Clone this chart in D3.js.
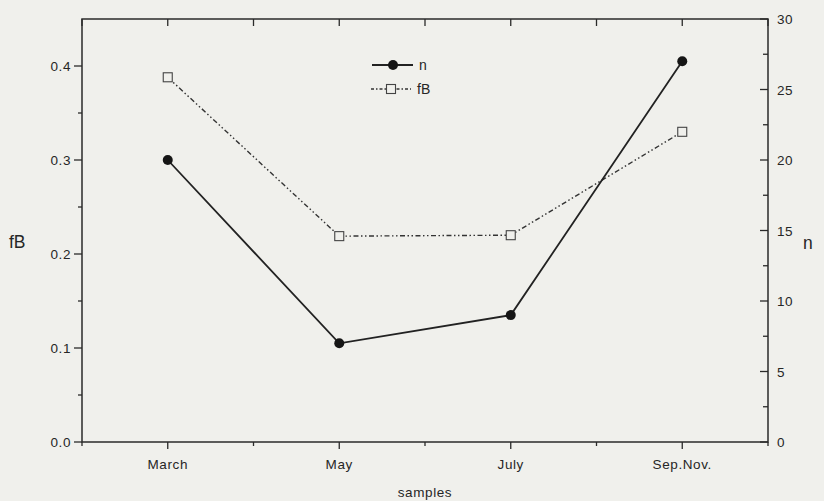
<!DOCTYPE html>
<html>
<head>
<meta charset="utf-8">
<script src="https://cdn.jsdelivr.net/npm/d3@7/dist/d3.min.js"></script>
<style>
  html, body { margin: 0; padding: 0; background: #f0f0ec; }
  svg { display: block; }
  text { font-family: "Liberation Sans", Arial, Helvetica, sans-serif; fill: #262626; }
</style>
</head>
<body>
<svg id="chart" width="824" height="501"></svg>
<script>
const categories = ["March", "May", "July", "Sep.Nov."];
const nValues = [20, 7, 9, 27];
const fBValues = [0.388, 0.219, 0.22, 0.33];
const leftTicks = [0.0, 0.1, 0.2, 0.3, 0.4];
const rightTicks = [0, 5, 10, 15, 20, 25, 30];

const svg = d3.select("#chart");
const margin = { left: 82, right: 56, top: 19, bottom: 59 };
const W = 824, H = 501;
const x0 = margin.left, x1 = W - margin.right;
const y0 = H - margin.bottom, y1 = margin.top;

const x = d3.scaleLinear().domain([0.5, categories.length + 0.5]).range([x0, x1]);
const yL = d3.scaleLinear().domain([0, 0.45]).range([y0, y1]);
const yR = d3.scaleLinear().domain([0, 30]).range([y0, y1]);

const axisColor = "#2a2a2a";
const halfTicks = d3.range(0.5, categories.length + 0.51, 0.5);
const tickFont = 13.5, tickSpacing = 0.6;

// Frame
svg.append("rect").attr("x", x0).attr("y", y1).attr("width", x1 - x0).attr("height", y0 - y1)
  .attr("fill", "none").attr("stroke", axisColor).attr("stroke-width", 1.5);

// Bottom axis
const gB = svg.append("g").attr("transform", `translate(0,${y0})`);
gB.selectAll("line").data(halfTicks).enter().append("line")
  .attr("x1", d => x(d)).attr("x2", d => x(d))
  .attr("y1", 0).attr("y2", d => Number.isInteger(d) ? 7 : 4)
  .attr("stroke", axisColor).attr("stroke-width", 1.3);
gB.selectAll("text").data(categories).enter().append("text")
  .attr("x", (d, i) => x(i + 1)).attr("y", 27)
  .attr("text-anchor", "middle").attr("font-size", tickFont).attr("letter-spacing", tickSpacing).text(d => d);
svg.append("text").attr("x", x(2.5)).attr("y", 497).attr("text-anchor", "middle")
  .attr("font-size", tickFont).attr("letter-spacing", tickSpacing).text("samples");

// Top axis ticks (inward)
svg.append("g").selectAll("line").data(halfTicks).enter().append("line")
  .attr("x1", d => x(d)).attr("x2", d => x(d))
  .attr("y1", y1).attr("y2", y1 + 7)
  .attr("stroke", axisColor).attr("stroke-width", 1.3);

// Left axis
const leftMinor = d3.range(0.05, 0.45, 0.1);
const gL = svg.append("g");
gL.selectAll("line.maj").data(leftTicks).enter().append("line")
  .attr("x1", x0 - 8).attr("x2", x0).attr("y1", d => yL(d)).attr("y2", d => yL(d))
  .attr("stroke", axisColor).attr("stroke-width", 1.3);
gL.selectAll("line.min").data(leftMinor).enter().append("line")
  .attr("x1", x0 - 4).attr("x2", x0).attr("y1", d => yL(d)).attr("y2", d => yL(d))
  .attr("stroke", axisColor).attr("stroke-width", 1.3);
gL.selectAll("text").data(leftTicks).enter().append("text")
  .attr("x", x0 - 11).attr("y", d => yL(d) + 5)
  .attr("text-anchor", "end").attr("font-size", tickFont).attr("letter-spacing", tickSpacing).text(d => d.toFixed(1));
svg.append("text").attr("x", 9).attr("y", 248).attr("font-size", 17.5).text("fB");

// Right axis (ticks inward)
const rightMinor = d3.range(2.5, 30, 5);
const gR = svg.append("g");
gR.selectAll("line.maj").data(rightTicks).enter().append("line")
  .attr("x1", x1 - 8).attr("x2", x1).attr("y1", d => yR(d)).attr("y2", d => yR(d))
  .attr("stroke", axisColor).attr("stroke-width", 1.3);
gR.selectAll("line.min").data(rightMinor).enter().append("line")
  .attr("x1", x1 - 5).attr("x2", x1).attr("y1", d => yR(d)).attr("y2", d => yR(d))
  .attr("stroke", axisColor).attr("stroke-width", 1.3);
gR.selectAll("text").data(rightTicks).enter().append("text")
  .attr("x", x1 + 9).attr("y", d => yR(d) + 5)
  .attr("text-anchor", "start").attr("font-size", tickFont).attr("letter-spacing", tickSpacing).text(d => d);
svg.append("text").attr("x", 803).attr("y", 249).attr("font-size", 17.5).text("n");

// fB series (dash-dot-dot, open squares)
const dash = "5,2.5,1.5,2.5,1.5,2.5";
const lineL = d3.line().x((d, i) => x(i + 1)).y(d => yL(d));
svg.append("path").datum(fBValues).attr("d", lineL)
  .attr("fill", "none").attr("stroke", "#333").attr("stroke-width", 1.4)
  .attr("stroke-dasharray", dash);
svg.selectAll("rect.fb").data(fBValues).enter().append("rect")
  .attr("x", (d, i) => x(i + 1) - 4.5).attr("y", d => yL(d) - 4.5)
  .attr("width", 9).attr("height", 9)
  .attr("fill", "#f0f0ec").attr("stroke", "#444").attr("stroke-width", 1.1);

// n series (solid, filled circles)
const lineR = d3.line().x((d, i) => x(i + 1)).y(d => yR(d));
svg.append("path").datum(nValues).attr("d", lineR)
  .attr("fill", "none").attr("stroke", "#222").attr("stroke-width", 1.8);
svg.selectAll("circle.n").data(nValues).enter().append("circle")
  .attr("cx", (d, i) => x(i + 1)).attr("cy", d => yR(d)).attr("r", 5)
  .attr("fill", "#151515");

// Legend
const lg = svg.append("g");
lg.append("line").attr("x1", 372).attr("x2", 413).attr("y1", 65).attr("y2", 65)
  .attr("stroke", "#222").attr("stroke-width", 1.8);
lg.append("circle").attr("cx", 393).attr("cy", 65).attr("r", 5).attr("fill", "#151515");
lg.append("text").attr("x", 419).attr("y", 70).attr("font-size", 14).text("n");
lg.append("line").attr("x1", 371).attr("x2", 411).attr("y1", 89).attr("y2", 89)
  .attr("stroke", "#333").attr("stroke-width", 1.4).attr("stroke-dasharray", "3,2,1.5,2");
lg.append("rect").attr("x", 386.5).attr("y", 84.5).attr("width", 9).attr("height", 9)
  .attr("fill", "#f0f0ec").attr("stroke", "#444").attr("stroke-width", 1.1);
lg.append("text").attr("x", 417).attr("y", 94).attr("font-size", 14).text("fB");
</script>
</body>
</html>
